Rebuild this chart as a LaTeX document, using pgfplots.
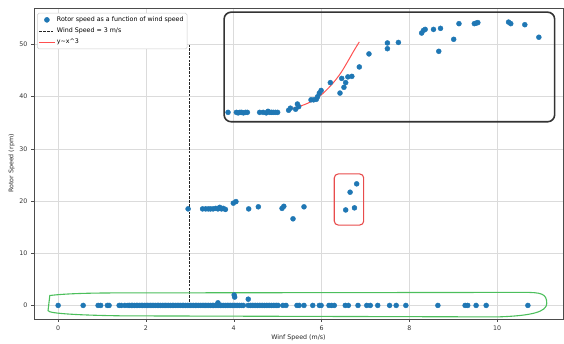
\documentclass[border=0pt]{standalone}
\usepackage{fontspec}
\setmainfont{DejaVu Sans}
\usepackage{pgfplots}
\pgfplotsset{compat=1.18}
\definecolor{mplblue}{HTML}{1F77B4}
\definecolor{curvered}{HTML}{FF5050}
\definecolor{boxgreen}{HTML}{4CBF5C}
\definecolor{boxred}{HTML}{E84C4C}
\definecolor{boxblack}{HTML}{333333}
\newcommand{\sz}{\fontsize{6.3}{7.4}\selectfont}
\begin{document}
\begin{tikzpicture}
\begin{axis}[
  scale only axis, width=529pt, height=311pt,
  xmin=-0.55, xmax=11.5, ymin=-2.6, ymax=57.0,
  xtick={0,2,4,6,8,10}, ytick={0,10,20,30,40,50},
  grid=major, grid style={black!14, line width=0.6pt},
  axis line style={black!70, line width=0.6pt},
  tick align=outside, tick pos=left, major tick length=3pt,
  major tick style={black!70, line width=0.5pt},
  /pgf/number format/assume math mode=true,
  tick label style={font=\sz, text=black!80},
  xlabel={Winf Speed (m/s)}, ylabel={Rotor Speed (rpm)},
  label style={font=\sz, text=black!85},
  xlabel style={yshift=2pt},
  ylabel style={yshift=-2pt},
  legend cell align=left,
  legend image code/.code={\draw[mark repeat=2,mark phase=2,#1] plot coordinates {(0pt,0pt) (7.5pt,0pt) (15pt,0pt)};},
  legend style={at={(0.006,0.984)}, anchor=north west, font=\sz, draw=black!20, rounded corners=1.5pt, fill=white, inner sep=1.5pt, row sep=1pt, line width=0.5pt},
]
% scatter: rotor speed vs wind speed
\addplot[only marks, mark=*, mark size=2.5pt, mark options={fill=mplblue, draw=mplblue}] coordinates {
(0.00,0) (0.57,0) (0.91,0) (0.97,0) (1.12,0) (1.16,0) (1.39,0) (1.44,0) (1.52,0)
(1.59,0) (1.63,0) (1.67,0) (1.70,0) (1.74,0) (1.78,0) (1.81,0) (1.85,0) (1.89,0) (1.92,0)
(1.96,0) (2.00,0) (2.03,0) (2.07,0) (2.11,0) (2.14,0) (2.18,0) (2.22,0) (2.26,0) (2.29,0)
(2.33,0) (2.37,0) (2.41,0) (2.44,0) (2.48,0) (2.52,0) (2.56,0) (2.60,0) (2.63,0) (2.67,0)
(2.71,0) (2.75,0) (2.79,0) (2.83,0) (2.86,0) (2.90,0) (2.94,0) (2.98,0) (3.01,0) (3.05,0)
(3.09,0) (3.13,0) (3.16,0) (3.20,0) (3.24,0) (3.28,0) (3.32,0) (3.35,0) (3.39,0) (3.43,0)
(3.47,0) (3.51,0) (3.54,0) (3.58,0) (3.62,0) (3.66,0) (3.70,0) (3.73,0) (3.77,0) (3.81,0)
(3.85,0) (3.89,0) (3.93,0) (3.97,0) (4.01,0) (4.05,0) (4.09,0) (4.13,0) (4.18,0) (4.22,0)
(4.33,0) (4.38,0) (4.42,0) (4.46,0) (4.50,0) (4.54,0) (4.58,0) (4.62,0) (4.66,0) (4.70,0)
(4.74,0) (4.78,0) (4.82,0) (4.86,0) (4.90,0) (4.94,0) (4.98,0) (5.01,0)
(5.12,0) (5.19,0) (5.44,0) (5.49,0) (5.60,0) (5.80,0) (5.95,0) (5.99,0) (6.17,0) (6.23,0)
(6.29,0) (6.54,0) (6.61,0) (6.83,0) (7.03,0) (7.11,0) (7.28,0) (7.55,0) (7.70,0) (7.92,0)
(8.65,0) (9.27,0) (9.33,0) (9.52,0) (9.75,0) (10.70,0)
(4.01,2.0) (4.02,1.6) (4.33,1.2) (3.64,0.5)
(2.96,18.5) (3.29,18.5) (3.36,18.5) (3.42,18.5) (3.47,18.5) (3.53,18.5) (3.59,18.6) (3.64,18.5)
(3.68,18.8) (3.72,18.5) (3.76,18.6) (3.81,18.4) (3.99,19.6) (4.05,19.9) (4.34,18.5) (4.56,18.9)
(5.10,18.6) (5.14,19.0) (5.35,16.6) (5.60,18.9)
(6.55,18.3) (6.75,18.7) (6.65,21.7) (6.80,23.3)
(3.87,37.0) (4.06,37.0) (4.10,36.9) (4.14,37.0) (4.18,37.0) (4.22,36.9) (4.27,37.0) (4.31,37.0)
(4.59,37.0) (4.67,37.0) (4.74,36.9) (4.78,37.2) (4.82,37.0) (4.86,37.0) (4.90,37.0) (4.95,37.0) (5.00,37.0)
(5.25,37.4) (5.29,37.8) (5.41,37.6) (5.45,38.6) (5.48,38.1) (5.76,39.4) (5.82,39.4) (5.88,39.5)
(5.91,40.0) (5.95,40.7) (5.99,41.2) (6.20,42.7) (6.42,40.7) (6.46,43.5) (6.51,41.8) (6.55,42.7)
(6.60,43.8) (6.69,43.9) (6.86,45.7) (7.08,48.2) (7.50,50.3) (7.50,49.2) (7.75,50.4)
(8.28,52.2) (8.32,52.7) (8.36,52.9) (8.55,52.9) (8.67,48.7) (8.71,53.1) (9.01,51.0) (9.13,54.0)
(9.48,54.0) (9.52,54.1) (9.56,54.2) (10.26,54.3) (10.31,54.0) (10.63,53.8) (10.95,51.4)
};
\addlegendentry{Rotor speed as a function of wind speed}
\addplot[black!85, line width=0.8pt, dash pattern=on 2.6pt off 1.2pt] coordinates {(3,0) (3,50)};
\addlegendentry{Wind Speed = 3 m/s}
\addplot[curvered, line width=1pt, smooth] coordinates {
(5.24,37.6) (5.40,37.9) (5.55,38.3) (5.70,38.8) (5.85,39.5) (6.00,40.4)
(6.15,41.6) (6.30,43.0) (6.45,44.7) (6.60,46.8) (6.75,49.0) (6.86,50.5)
};
\addlegendentry{y\textasciitilde x\textasciicircum 3}
% annotations
\draw[boxblack, line width=1.6pt, rounded corners=7pt] (axis cs:3.78,35.2) rectangle (axis cs:11.31,56.2);
\draw[boxred, line width=1.1pt, rounded corners=4pt] (axis cs:6.29,15.4) rectangle (axis cs:6.96,25.2);
\draw[boxgreen, line width=1.1pt] (axis cs:-0.19,1.9) .. controls (axis cs:0.2,2.3) and (axis cs:0.8,2.4) .. (axis cs:1.5,2.4)
  -- (axis cs:10.6,2.5) .. controls (axis cs:11.0,2.5) and (axis cs:11.13,2.3) .. (axis cs:11.13,0.4)
  .. controls (axis cs:11.13,-1.2) and (axis cs:10.8,-2.0) .. (axis cs:10.0,-2.2)
  -- (axis cs:1.5,-2.0) .. controls (axis cs:0.6,-1.9) and (axis cs:-0.22,-1.6) .. (axis cs:-0.23,-1.0)
  -- cycle;
\end{axis}
\pgfresetboundingbox
\path[use as bounding box] ([shift={(-34pt,-25pt)}]current axis.south west) rectangle ([shift={(1pt,8pt)}]current axis.north east);
\end{tikzpicture}
\end{document}
